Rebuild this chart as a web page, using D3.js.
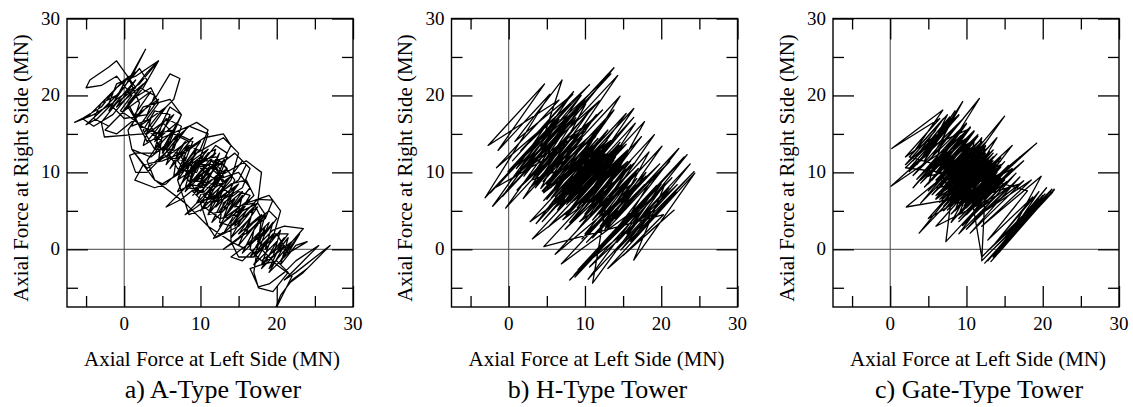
<!DOCTYPE html>
<html>
<head>
<meta charset="utf-8">
<script src="https://cdn.jsdelivr.net/npm/d3@7"></script>
<style>
  body { margin: 0; background: #fff; }
  svg { display: block; }
  text { font-family: "Liberation Serif", "Times New Roman", serif; fill: #000; }
</style>
</head>
<body>
<svg id="chart" width="1133" height="407"></svg>
<script>
// axial force at [left side, right side] in MN
const towerA = [
  [10,10],[11.5,11.5],[12.5,10],[10.5,8],[8.5,8.5],[9,10.5],[11,11],[13,9],[12,7],[9.5,7.5],[8,9.5],[9.5,11.5],[12,12],[13.5,10.5],[12,8.5],
  [9,9],[7,11.5],[8.5,13.5],[10.5,12.5],[9.5,10],[7,10.5],[5.5,13],[7,15],[9,14],[8,11.5],[5.5,12],[4,14.5],[5.5,17],[7.5,16],[6.5,13],[4,13],[2.5,15.5],[4,18],[6,17.5],[5,15],
  [2,16],[0.5,18.5],[2,21],[4,20],[3,17.5],[0,17],[-2,19],[-1,21.5],[1.5,22.5],[4.5,24.5],[2,21.5],[-1,19.5],[-3.5,17],[-5,16.2],[-3,18],[0,21],[2.8,26],[1,22.5],
  [-1.5,19],[-4,17.5],[-6.5,16.5],[-4.5,17.5],[-2,20],[0,22],[1.5,23],[-1,21],[-3,18.5],[-5.5,17],[-4,16],[-1.5,17.5],[1,20.5],[3,23],[4.5,24.5],[2.5,21],[0,18],
  [-2.5,15.5],[-1,15],[1.5,17],[4,19.5],[6,22.8],[7.3,22.2],[6.5,19.5],[4.5,17.5],[2.5,15],[0,14.8],[-2.6,14.6],[-3,16.5],[-1,19],[1.5,21],[-1,24.5],[-2,23.7],
  [-4.5,22],[-5,21],[-3,21.3],[-1,22.5],[1,20],[-0.5,18],
  [1,17],[3,15.5],[5,14],[4,12.5],[1.5,12.5],[0.7,12.2],[1.5,10],[3,10],[5,12],[7,14.5],[8.5,16],[9.5,16.5],[11,15.5],[10,13],[8,11],[5.5,8.5],[4,8],[1.4,9],
  [2.5,11],[5,11.5],[7.5,12.5],[10.5,14.5],[13,15],[14,13.5],[13,11.5],[10.5,10],[8,8],[6,6],[5.5,5.5],[7.5,6.5],[10,8.5],[12.5,11],[14.5,12.5],[16,11],[15,9],
  [12,7],[9.5,6],[8,4.5],[9.5,5.5],[12,7.5],[14,9.5],[15.5,11.5],[16.5,10.5],[15.5,8],
  [13,6.5],[10.5,6],[9,7.5],[10.5,9.5],[12,11.5],[13.5,12],[12.5,9.5],[10.5,7.5],[8.5,8],[9,10],[11,12.5],[12,13],[11,10.5],[9,8.5],[7,7.5],[8,9.5],[10,11],
  [13,11],[14.5,9],[13.5,7],[11,6.5],[9.5,8],[11,10],[12.5,12.5],[11.5,10],[9.5,9],[11,8],[13,8.5],[12,10.5],[10,10.5],
  [12,9],[14,7],[13,5],[11,4.5],[11.7,6.5],[14,8.5],[16,9],[17,7],[15,5],[13,3.5],[11.7,1.4],[13.5,2.5],[15.5,4.5],[17.5,6.5],[19.5,6.4],[18.5,4],[16.5,2.5],
  [14.5,1],[13,0],[15,1.5],[17,3.5],[19,5],[20,4],[18.5,2],[16,0.5],[14,-1],[15.5,-1.5],[17.5,0.5],[19.5,2.5],[21,3],[23.5,2.7],[22,1],[20,-0.5],[18,-2],
  [16.5,-2.5],[17.6,-4.9],[19,-4.5],[21,-3],[22.5,-1.5],[25.5,0.5],[23,-2],[21,-4],[22.5,-3],[27,0.5],[26,-0.5],[23.5,-3],[21.5,-4.5],[24,-2.5],[22,-4],
  [20.5,-6],[19.5,-8.5],[20.5,-6.5],[22,-3.5],[20,-2],
  [18,0],[19.5,2],[21.5,2],[20,0],[18,-1.5],[16.5,0],[17,2.5],[18.5,4.5],[17.5,6],[15.5,5],[14,3],[12.5,3.5],[13,6],[15,7.5],[16.5,7],[15,4.5],[12.5,4],
  [10.5,5.5],[11.5,8],[13,9.5],[12,11.5],[10,11.5],[8.5,10],[7.5,12],[8.5,14],[6.5,15],[5,16.5],[6,18.5],[7.5,17.5],[6.5,15.5],[4,15],[3,17],[4.5,19],
  [3.5,21],[1,19.5],[-0.5,17.5],[-2,16],[-4,17],[-3,19],[-1,20],[2,23.5],[3,22],[0.5,19],
  [3,14],[5,16.5],[4,13],[6.5,15.5],[5,12.5],[7,15],[5.5,11],[8,14],[6,10.5],[8.5,13.5],[7,10],[9.5,13],[7.5,8.5],[10,11.5],[8,7.5],[11,10.5],[9,7],
  [11.5,10],[9.5,6],[12.5,9],[10,5],[13,8],[11,4.5],[13.5,7.5],[11.5,3.5],[14.5,6.5],[12.5,3],[15,5.5],[13,2],[16,5],[14,1.5],[16.5,4],[15,0.5],[17.5,3.5],
  [15.5,-0.5],[18.5,2.5],[16.5,-1],[19,1.5],[17,-2],[20,1],[18,-2.5],[21,0.5],[19,-3],[21.5,-0.5],
  [20,2],[17.5,-0.5],[19,3.5],[16,0.5],[18,4.5],[15,2],[17.5,5.5],[14,3],[16.5,6.5],[13,4],[15.5,7.5],[12.5,5],[15,8.5],[11.5,6],[14,9.5],[10.5,7],
  [13.5,10.5],[10,8],[12.5,11.5],[9,9],[12,12.5],[8.5,10],[11,13],[7.5,10.5],[10,14],[6.5,11.5],[9,14.5],[5.5,12],[8,15.5],[5,13],[7,16.5],[4,14],
  [6.5,17.5],[3,15],[5.5,18.5],[2,16],[4.5,19.5],[1,17],[3.5,20.5],[0,18],[2.5,21.5],[-1,18.5],[1.5,22],[-2,18],[0.5,22.5],
  [2,19],[1,16],[3.5,17],[2.5,13.5],[5,15],[4.5,11.5],[7,13],[6.5,9.5],[9,11.5],[8,8],[10.5,10.5],[9.5,7],[12,9.5],[11,6.5],[13.5,9],[12,5.5],[14.5,8],
  [13,4],[15.5,7],[14.5,3],[17,5.5],[16,2],[18.5,4.5],[17.5,1],[19.5,3.5],[18.5,0],[20.5,2.5],[19.5,-1],[21.5,1.5],[20.5,-2],[22.5,0.5],
  [24,1],[21.5,-0.5],[23,2],[20.5,-1.5],[22,1],[19,-2.5],[21,1.5],[18,-2],[19.5,2],[17,-1],[18.5,3],[16,0],
  [14,1],[14,3.5],[16,6],[19,7],[20.5,5],[19.5,1.5],[17,-1],[15,-1],[14,1],
  [11,3],[10,6],[12.5,9.5],[16,11.5],[18,10],[17.5,6],[15,3],[12,1.5],[11,3],
  [8,6],[7,9],[9.5,12.5],[13,14.5],[15,12.5],[14,9],[11,5.5],[8.5,4.5],[8,6],
  [4,9],[3,11.5],[5,14.5],[8.5,16],[11,15],[10,12],[7.5,10],[5,8.5],[4,9],
  [1,13],[0.5,15.5],[2.5,18.5],[6,19.5],[7.5,17.5],[6,14],[3.5,12],[1,13],
  [3,10.5],[6,13],[8,12],[7,9],[10,11],[12,13.5],[13.5,12.5],[12,9],[15,10],[16.5,8],[14.5,5.5],[17,6],[18,4],[17,-3],[17.6,-5],[19.5,-5.5],[21.5,-3],[20,-1.5],[18,-2]
];

const towerB = [
  [7.3,7.1],[12.7,12.9],[6.1,6.85],[12.9,14.15],[6.3,8.1],[11.7,13.9],[6.4,5.1],[14.6,13.9],[8.3,6.1],[13.7,11.9],[6.6,6.85],[13.4,14.15],
  [4.4,7.6],[12.6,16.4],[2.7,7.9],[12.3,18.1],[1.1,7.7],[11.9,19.3],[0.2,8.9],[9.8,19.1],[-0.1,10.1],[8.1,18.9],[-1.6,10.6],[6.6,19.4],
  [-2.7,13.5],[4.7,21.5],[-1.4,12.85],[5.4,20.15],[-3.1,6.7],[3.1,13.3],[-2.4,7.35],[4.4,14.65],[-2.1,5.6],[6.1,14.4],[-0.4,5.35],[6.4,12.65],
  [-1.6,8.1],[6.6,16.9],[-0.8,6.9],[8.8,17.1],[1.9,6.6],[10.1,15.4],[2.2,10.9],[11.8,21.1],[2.6,11.2],[13.4,22.8],[2.4,12.6],[10.6,21.4],
  [1.6,12.85],[8.4,20.15],[0.8,14],[7,22],[4.2,13.4],[13.8,23.6],[4.7,12.4],[14.3,22.6],[6.4,11.1],[14.6,19.9],[8.6,10.35],[15.4,17.65],
  [9.6,9.85],[16.4,17.15],[8.4,7.6],[16.6,16.4],[10.6,7.35],[17.4,14.65],[10.9,6.1],[19.1,14.9],[11.9,4.6],[20.1,13.4],[12.7,2.9],[22.3,13.1],
  [12.6,0.7],[23.4,12.3],[14.2,0.9],[23.8,11.1],[14.7,-0.1],[24.3,10.1],[13.9,-0.4],[22.1,8.4],[10.6,-2.3],[21.4,9.3],[8,-4],[23,12],
  [8.6,-3.3],[19.4,8.3],[8.7,-3.6],[18.3,6.6],[10.4,-3.9],[18.6,4.9],[9.1,-2.65],[15.9,4.65],[6.9,-1.9],[15.1,6.9],[6.1,-0.65],[12.9,6.65],
  [11,-4.4],[20.5,8.5],[16.4,-1.4],[24.4,9.9],[13,-2.5],[21.7,5.1],[15,-0.8],[20.3,4.5],
  [4.6,0.35],[11.4,7.65],[3.1,1.35],[9.9,8.65],[2.8,3.6],[8.2,9.4],[3.6,3.35],[10.4,10.65],[4.4,3.6],[12.6,12.4],[6.6,5.35],[13.4,12.65],
  [7.4,4.1],[15.6,12.9],[8.6,6.35],[15.4,13.65],[8.3,8.1],[13.7,13.9],[6.3,8.6],[11.7,14.4],[4.6,6.35],[11.4,13.65],[6.8,6.6],[12.2,12.4],
  [7.6,5.85],[14.4,13.15],[9.8,6.1],[15.2,11.9],[9.6,3.85],[16.4,11.15],[7.4,2.6],[15.6,11.4],[5.2,2.9],[14.8,13.1],[4.9,5.1],[13.1,13.9],
  [4.6,7.35],[11.4,14.65],[2.9,8.1],[11.1,16.9],[1.9,10.1],[10.1,18.9],[4.2,7.9],[13.8,18.1],[5.6,6.7],[16.4,18.3],[8.2,6.4],[17.8,16.6],
  [11.6,5.35],[18.4,12.65],[12.9,2.6],[21.1,11.4],[10.2,0.9],[19.8,11.1],[9.6,1.35],[16.4,8.65],[9.3,3.6],[14.7,9.4],[7.1,3.85],[13.9,11.15],
  [6.3,5.6],[11.7,11.4],[8,7.8],[12,12.2],
  [3,9],[8,15],[3.5,9.2],[8.7,15],[4,9],[9,14.8],[4.5,8.8],[9.6,14.4],[5,8.4],[10,14],[5.5,8],[10.8,13.8],[6,7.6],[11.2,13.4],[6.6,7.2],[11.8,13],
  [7,7],[12.4,12.8],[7.6,6.6],[12.8,12.4],[8,6.2],[13.4,12],[8.6,5.8],[13.8,11.6],[9,5.4],[14.4,11.2],[9.6,5],[14.8,10.8],[10,4.6],[15.4,10.4],
  [10.6,4.2],[15.8,10],[11,3.8],[16.4,9.6],[11.6,3.4],[16.8,9.2],[12,3],[17.4,8.8],[12.6,2.6],[17.8,8.4],
  [11,1.5],[18,9.5],[10,2],[17,10.5],[9,2.5],[16,11.5],[8,3.5],[15.5,12.5],[7.5,4.5],[14.5,13.5],[6.5,5],[14,14.5],[6,6],[13,15.5],[5,6.5],[12.5,16.5],
  [4.5,7.5],[11.5,17.5],[3.5,8],[11,18.5],[3,9],[10,19.5],[2,9.5],[9.5,20],[1.5,10.5],[8.5,20.5],
  [0.5,11.5],[5.5,17],[1,10.5],[6.5,16.5],[2,10],[7.5,16],[3,9.5],[8,15],[4,9],[9,14.5],[5,8.5],[10,14],[6,8],[11,13.5],[7,7.5],[12,13],[8,7],[13,12.5],
  [9,6.5],[14,12],[10,6],[15,11.5],[11,5.5],[16,11],[12,5],[17,10.5],[13,4.5],[18,10],[14,4],[19,9.5],[15,3],[20,8.5],[15.5,2],[21,8],[16,1],[22,7.5]
];

const towerC = [
  [7.5,7],[12.5,12],[7,8],[12,12.8],[8.5,6],[13.5,11],[6.5,7.5],[11.5,12.5],[9,5.5],[14,10.5],[7,9],[11.5,13.5],[8,6.5],[13,11.5],
  [6,6.5],[11,11.5],[9.5,6.5],[14.5,11.5],[7.5,9.5],[12,14],[8.5,5],[14,10],[6.5,8.5],[11,13],[9,7.5],[13.5,12],[7,6],[12.5,11],
  [8,8.5],[12.5,13],[9.5,5],[14.5,9.5],[6,8],[10.5,13],[8.5,7],[13,12.5],[7,5],[13,10.5],[8,9.5],[12,14.5],[10,6],[14.5,11],
  [6.5,6.5],[12,12],[9,8],[13.5,12.5],[7.5,5.5],[12.5,10.5],[7,10],[11,14],[9.5,7],[14,11.5],[6,7],[11.5,12.5],[8.5,6],[14,11],
  [7.5,8],[12.5,13.5],[9,4.5],[14,9.5],[6.5,9],[10.5,13.5],[8,7.5],[13,12],[10,5.5],[15,10],[7,7],[12,12.5],[8.5,9],[12.5,13],[7.5,6],[13.5,11.5],
  [5,9.5],[9.5,14],[4,9],[8.5,14.5],[3,8],[8,13.5],[0.1,8.2],[5.5,13],[2.5,10.5],[7,15.5],[2,12],[6.5,17],[0.2,13.1],[6.9,18.1],
  [3,12.5],[7.5,17.5],[4.5,11.5],[9.5,19.2],[5.5,12],[11.7,19.6],[6,10.5],[10,15.5],[4.5,13],[8,17],[3.5,11],[7.5,16],[5,8.5],[10,14],
  [8,9],[15,17.3],[9,9],[14,14.5],[10,8],[16,13.5],[11,7],[19.2,13.8],[10,5.5],[17,12],[9,4],[15.5,10.5],[11.5,6.5],[17.5,11.5],[10.5,5],[16,10.5],
  [5,4],[9,8.5],[3.8,2.1],[8,6.5],[2.1,5.5],[7,9.5],[4,6],[8.5,10.5],[7.3,1],[12,6],[9,2],[14,7],[6,3],[10.5,8],[8,3.5],[12.5,8.5],
  [12,-1.5],[19,5.5],[12.4,-1.8],[20,6.5],[13,-0.5],[21.5,7.7],[13.5,-1],[20.5,7],[14,0.5],[21,7.5],[12.5,-0.5],[19.5,6],[13,-1.2],[20,7],
  [14.5,0],[21.2,7.8],[15,1.5],[20.5,8],[16,2.5],[19.8,9.5],[12,3],[18.5,9],[11,4],[17,8.5],
  [9,6],[13.5,10.5],[7.5,7.5],[12,12],[8.5,8],[12.5,12.5],[9.5,6.5],[13,10],[8,7],[11.5,11],[9,8],[11.5,10.5],
  [6,9],[10,13],[6.3,8.7],[10.3,12.8],[6.6,8.4],[10.7,12.5],[7,8.1],[11,12.2],[7.3,7.8],[11.4,11.9],[7.7,7.5],[11.7,11.6],[8,7.2],[12,11.3],
  [8.4,6.9],[12.4,11],[8.7,6.6],[12.7,10.7],[9,6.3],[13.1,10.4],[9.4,6],[13.4,10.1],[9.7,5.7],[13.8,9.8],[10,5.4],[14.1,9.5],[10.4,5.1],[14.5,9.2],
  [10,4.5],[15,10],[9.5,5],[14.5,10.7],[9,5.5],[14,11.4],[8.5,6],[13.5,12],[8,6.5],[13,12.7],[7.5,7],[12.5,13.4],[7,7.5],[12,14],[6.5,8],[11.5,14.7],
  [6,8.5],[11,15.3],[5.5,9],[10.5,15.8],[5,9.5],[10,16.3],
  [5.5,10.5],[9.5,14.5],[6,10],[10,14],[6.5,9.5],[10.5,13.5],[7,9],[11,13],[7.5,8.5],[11.5,12.5],[8,8],[12,12],[8.5,7.5],[12.5,11.5],[9,7],[13,11],
  [9.5,6.5],[13.5,10.5],[10,6],[14,10],[10.5,5.5],[14.5,9.5],[11,5],[15,9],
  [2,10.6],[9,17.4],[2.5,10.1],[9.5,16.9],[3,9.6],[10,16.4],[3.5,9.1],[10.5,15.9],[4,8.6],[11,15.4],[4.5,8.1],[11.5,14.9],[5,7.6],[12,14.4],
  [5.5,7.1],[12.5,13.9],[6,6.6],[13,13.4],[6.5,6.1],[13.5,12.9],[7,5.6],[14,12.4],[7.5,5.1],[14.5,11.9],[8,4.6],[15,11.4],[8.5,4.1],[15.5,10.9],
  [9,3.6],[16,10.4],[9.5,3.1],[16.5,9.9],[10,2.6],[17,9.4],[10.5,2.1],[17.5,8.9],
  [11.6,4.3],[15.8,8.3],[11.1,4.8],[15.3,8.8],[10.6,5.3],[14.8,9.3],[10.1,5.8],[14.3,9.8],[9.6,6.3],[13.8,10.3],[9.1,6.8],[13.3,10.8],
  [8.6,7.3],[12.8,11.3],[8.1,7.8],[12.3,11.8],[7.6,8.3],[11.8,12.3],[7.1,8.8],[11.3,12.8],[6.6,9.3],[10.8,13.3],[6.1,9.8],[10.3,13.8],
  [5.6,10.3],[9.8,14.3],[5.1,10.8],[9.3,14.8],
  [12,-1],[19.5,6.5],[12.8,-1.5],[20.3,7.2],[13.5,-0.8],[21,7.6],[14.2,-0.5],[21.5,7.8],[13.2,-1.6],[20.8,7],[14,-0.2],[20,6.2],[15,0.8],[21.3,7.4],
  [14.6,0.3],[19.5,7.5],[13.7,0.7],[18.7,6.8],[12.8,1.2],[18,7.6],
  [2.5,12],[7,17],[3,11.5],[7.8,17.2],[3.5,11],[8.5,17.5],[4,11.5],[8.5,18],[4.5,12],[9,17.5],[2,11],[6,15.5]
];

const panelTitles = ['a) A-Type Tower', 'b) H-Type Tower', 'c) Gate-Type Tower'];
const xAxisTitle = 'Axial Force at Left Side (MN)';
const yAxisTitle = 'Axial Force at Right Side (MN)';
const majorTicks = [0, 10, 20, 30];
const minorTicks = [-5, 5, 15, 25];
const axisDomain = [-7.5, 30];

const svg = d3.select('#chart');
const panels = [towerA, towerB, towerC];
const lefts = [67, 451.5, 833];
const W = 286, plotTop = 18.5, plotBottom = 307;

panels.forEach((data, i) => {
  const left = lefts[i];
  const x = d3.scaleLinear().domain(axisDomain).range([left, left + W]);
  const y = d3.scaleLinear().domain(axisDomain).range([plotBottom, plotTop]);
  const g = svg.append('g');

  g.append('clipPath').attr('id', 'clip' + i)
    .append('rect').attr('x', left).attr('y', plotTop).attr('width', W).attr('height', plotBottom - plotTop);

  // zero lines
  g.append('line').attr('x1', x(0)).attr('x2', x(0)).attr('y1', plotTop).attr('y2', plotBottom)
    .attr('stroke', '#444').attr('stroke-width', 1);
  g.append('line').attr('x1', left).attr('x2', left + W).attr('y1', y(0)).attr('y2', y(0))
    .attr('stroke', '#444').attr('stroke-width', 1);

  // the loops
  const line = d3.line().x(d => x(d[0])).y(d => y(d[1]));
  g.append('path').datum(data)
    .attr('clip-path', `url(#clip${i})`)
    .attr('d', line)
    .attr('fill', 'none').attr('stroke', '#000').attr('stroke-width', 1.3)
    .attr('stroke-linejoin', 'round');

  // inward ticks on all four sides
  const sides = [
    [d3.axisBottom, `translate(0,${plotBottom})`, x],
    [d3.axisTop, `translate(0,${plotTop})`, x],
    [d3.axisLeft, `translate(${left},0)`, y],
    [d3.axisRight, `translate(${left + W},0)`, y]
  ];
  sides.forEach(([axisFn, tr, sc]) => {
    [[majorTicks, 21], [minorTicks, 11]].forEach(([vals, len]) => {
      g.append('g').attr('transform', tr)
        .call(axisFn(sc).tickValues(vals).tickSizeInner(-len).tickSizeOuter(0).tickFormat(''))
        .call(a => a.select('.domain').remove())
        .call(a => a.selectAll('line').attr('stroke', '#000').attr('stroke-width', 1.3));
    });
  });

  g.append('rect').attr('x', left).attr('y', plotTop).attr('width', W).attr('height', plotBottom - plotTop)
    .attr('fill', 'none').attr('stroke', '#000').attr('stroke-width', 1.4);

  // tick labels
  g.selectAll('.xl').data(majorTicks).enter().append('text')
    .attr('x', d => x(d)).attr('y', 330).attr('text-anchor', 'middle')
    .style('font-size', '19px').text(d => d);
  g.selectAll('.yl').data(majorTicks).enter().append('text')
    .attr('x', left - 7).attr('y', d => y(d) + 6).attr('text-anchor', 'end')
    .style('font-size', '19px').text(d => d);

  // axis titles and panel caption
  g.append('text').attr('x', left + W / 2 + 2).attr('y', 366).attr('text-anchor', 'middle')
    .style('font-size', '21px').text(xAxisTitle);
  g.append('text').attr('transform', `translate(${left - 39.5},168) rotate(-90)`).attr('text-anchor', 'middle')
    .style('font-size', '21px').text(yAxisTitle);
  g.append('text').attr('x', left + W / 2 + 3).attr('y', 398).attr('text-anchor', 'middle')
    .style('font-size', '26px').text(panelTitles[i]);
});
</script>
</body>
</html>
